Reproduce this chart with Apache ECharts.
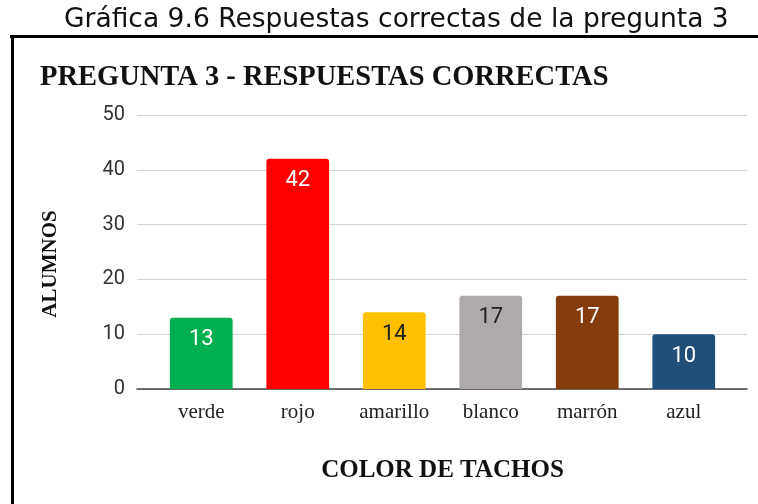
<!DOCTYPE html>
<html>
<head>
<meta charset="utf-8">
<script src="https://cdn.jsdelivr.net/npm/echarts@6/dist/echarts.min.js"></script>
<style>
  html, body { margin: 0; padding: 0; background: #fff; }
  #chart { width: 758px; height: 504px; }
</style>
</head>
<body>
<div id="chart"></div>
<script>
// datos de la grafica
const categories = ['verde', 'rojo', 'amarillo', 'blanco', 'marrón', 'azul']
const values = [13, 42, 14, 17, 17, 10]
const barColors = ['#00b050', '#ff0000', '#ffc000', '#aeaaaa', '#843c0c', '#1f4e79']
const labelColors = ['#fff', '#fff', '#222', '#222', '#fff', '#fff']
const yTicks = [0, 10, 20, 30, 40, 50]

const myChart = echarts.init(document.getElementById('chart'))

const option = {
  animation: false,
  backgroundColor: '#fff',
  title: [
    {
      text: 'Gráfica 9.6 Respuestas correctas de la pregunta 3',
      left: 59,
      top: 2,
      textStyle: { fontFamily: 'DejaVu Sans', fontSize: 26.5, fontWeight: 'normal', color: '#111' }
    },
    {
      text: 'PREGUNTA 3 - RESPUESTAS CORRECTAS',
      left: 35,
      top: 58,
      textStyle: { fontFamily: 'Liberation Serif', fontSize: 28.5, fontWeight: 'bold', color: '#111' }
    }
  ],
  graphic: [
    { type: 'rect', shape: { x: 10, y: 35, width: 748, height: 3 }, style: { fill: '#000' } },
    { type: 'rect', shape: { x: 11, y: 35, width: 3, height: 469 }, style: { fill: '#000' } }
  ],
  grid: [
    { left: 137, right: 11, top: 115, bottom: 115 },
    { left: 153, right: 26, top: 115, bottom: 115 }
  ],
  xAxis: [
    {
      gridIndex: 0,
      type: 'value',
      min: 0,
      max: 1,
      axisLine: { show: true, lineStyle: { color: '#444', width: 1.5 } },
      axisTick: { show: false },
      axisLabel: { show: false },
      splitLine: { show: false }
    },
    {
      gridIndex: 1,
      type: 'category',
      data: categories,
      axisLine: { show: false },
      axisTick: { show: false },
      axisLabel: { fontFamily: 'Liberation Serif', fontSize: 21, color: '#222', margin: 13 },
      name: 'COLOR DE TACHOS',
      nameLocation: 'middle',
      nameGap: 69,
      nameTextStyle: { fontFamily: 'Liberation Serif', fontSize: 25, fontWeight: 'bold', color: '#111' }
    }
  ],
  yAxis: [
    {
      gridIndex: 0,
      type: 'value',
      min: yTicks[0],
      max: yTicks[yTicks.length - 1],
      interval: yTicks[1] - yTicks[0],
      axisLine: { show: false },
      axisTick: { show: false },
      axisLabel: { fontFamily: 'Roboto', fontSize: 20, color: '#333', margin: 12 },
      splitLine: { lineStyle: { color: '#d3d3d3', width: 1 } },
      name: 'ALUMNOS',
      nameLocation: 'middle',
      nameGap: 76,
      nameRotate: 90,
      nameTextStyle: { fontFamily: 'Liberation Serif', fontSize: 21, fontWeight: 'bold', color: '#111', padding: [0, 24, 0, 0] }
    },
    {
      gridIndex: 1,
      type: 'value',
      min: yTicks[0],
      max: yTicks[yTicks.length - 1],
      show: false,
      splitLine: { show: false }
    }
  ],
  series: [
    {
      type: 'bar',
      xAxisIndex: 1,
      yAxisIndex: 1,
      barWidth: '65%',
      data: values.map(function (v, i) {
        return {
          value: v,
          itemStyle: { color: barColors[i], borderRadius: [3, 3, 0, 0] },
          label: { color: labelColors[i] }
        }
      }),
      label: {
        show: true,
        position: 'insideTop',
        distance: 11,
        fontFamily: 'Roboto',
        fontSize: 22
      }
    }
  ]
}

myChart.setOption(option)
</script>
</body>
</html>
